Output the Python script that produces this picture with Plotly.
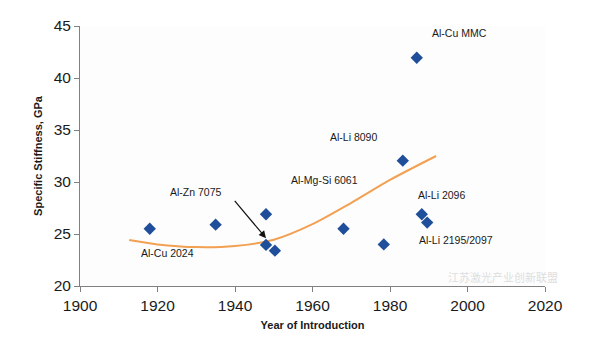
import plotly.graph_objects as go

# Data points (year of introduction, specific stiffness GPa)
years = [1918, 1935, 1948, 1948, 1950.3, 1968, 1978.4, 1983.3, 1986.9, 1988.2, 1989.6]
stiffness = [25.5, 25.9, 26.9, 23.95, 23.4, 25.5, 24.0, 32.05, 41.95, 26.9, 26.1]

# Trendline
trend_years = [1912.7, 1920, 1930, 1940, 1950, 1960, 1970, 1980, 1991.9]
trend_vals = [24.42, 24.0, 23.74, 23.85, 24.45, 25.95, 28.0, 30.2, 32.5]

# Labels
label_texts = ["Al-Cu MMC", "Al-Li 8090", "Al-Mg-Si 6061", "Al-Li 2096", "Al-Li 2195/2097", "Al-Zn 7075", "Al-Cu 2024"]
label_x = [1998.0, 1970.6, 1963.1, 1993.2, 1997.0, 1929.9, 1922.7]
label_y = [44.3, 34.36, 30.19, 28.75, 24.42, 29.07, 23.14]

x_ticks = [1900, 1920, 1940, 1960, 1980, 2000, 2020]
y_ticks = [20, 25, 30, 35, 40, 45]

fig = go.Figure()
fig.add_trace(go.Scatter(x=trend_years, y=trend_vals, mode="lines",
                         line=dict(color="#F2A052", width=2, shape="spline", smoothing=0.8),
                         hoverinfo="skip", showlegend=False))
fig.add_trace(go.Scatter(x=years, y=stiffness, mode="markers",
                         marker=dict(symbol="diamond", size=9.5, color="#1F4E9A"),
                         showlegend=False))

anns = []
for t, x, y in zip(label_texts, label_x, label_y):
    anns.append(dict(x=x, y=y, text=t, showarrow=False, xref="x", yref="y",
                     font=dict(family="Liberation Sans, Arial", size=10.5, color="#1a1a1a")))
# Arrow for Al-Zn 7075
anns.append(dict(x=1948.0, y=24.6, ax=1939.6, ay=28.33, axref="x", ayref="y",
                 xref="x", yref="y", text="", showarrow=True, arrowhead=2,
                 arrowsize=1.2, arrowwidth=1.2, arrowcolor="#111111"))
# Watermark
anns.append(dict(x=540 / 594, y=1 - 336 / 348, xref="paper", yref="paper",
                 text="江苏激光产业创新联盟", showarrow=False,
                 xanchor="center", yanchor="middle",
                 font=dict(family="Noto Sans CJK SC", size=11, color="#dedede")))

fig.update_layout(
    width=594, height=348,
    margin=dict(l=80, r=49, t=26, b=62),
    paper_bgcolor="#ffffff", plot_bgcolor="#fdfdfd",
    annotations=anns,
    font=dict(family="Liberation Sans, Arial", color="#1a1a1a"),
    xaxis=dict(range=[1900, 2020], tickvals=x_ticks, showgrid=False, zeroline=False,
               showline=True, linecolor="#808080", linewidth=1, ticks="outside",
               ticklen=5, tickcolor="#808080", tickfont=dict(size=15.5),
               title=dict(text="<b>Year of Introduction</b>", font=dict(size=11), standoff=8)),
    yaxis=dict(range=[20, 45], tickvals=y_ticks, showgrid=False, zeroline=False,
               showline=True, linecolor="#808080", linewidth=1, ticks="outside",
               ticklen=5, tickcolor="#808080", tickfont=dict(size=15.5),
               title=dict(text="<b>Specific Stiffness, GPa</b>", font=dict(size=11), standoff=8)),
)
fig.write_html("out.html")
